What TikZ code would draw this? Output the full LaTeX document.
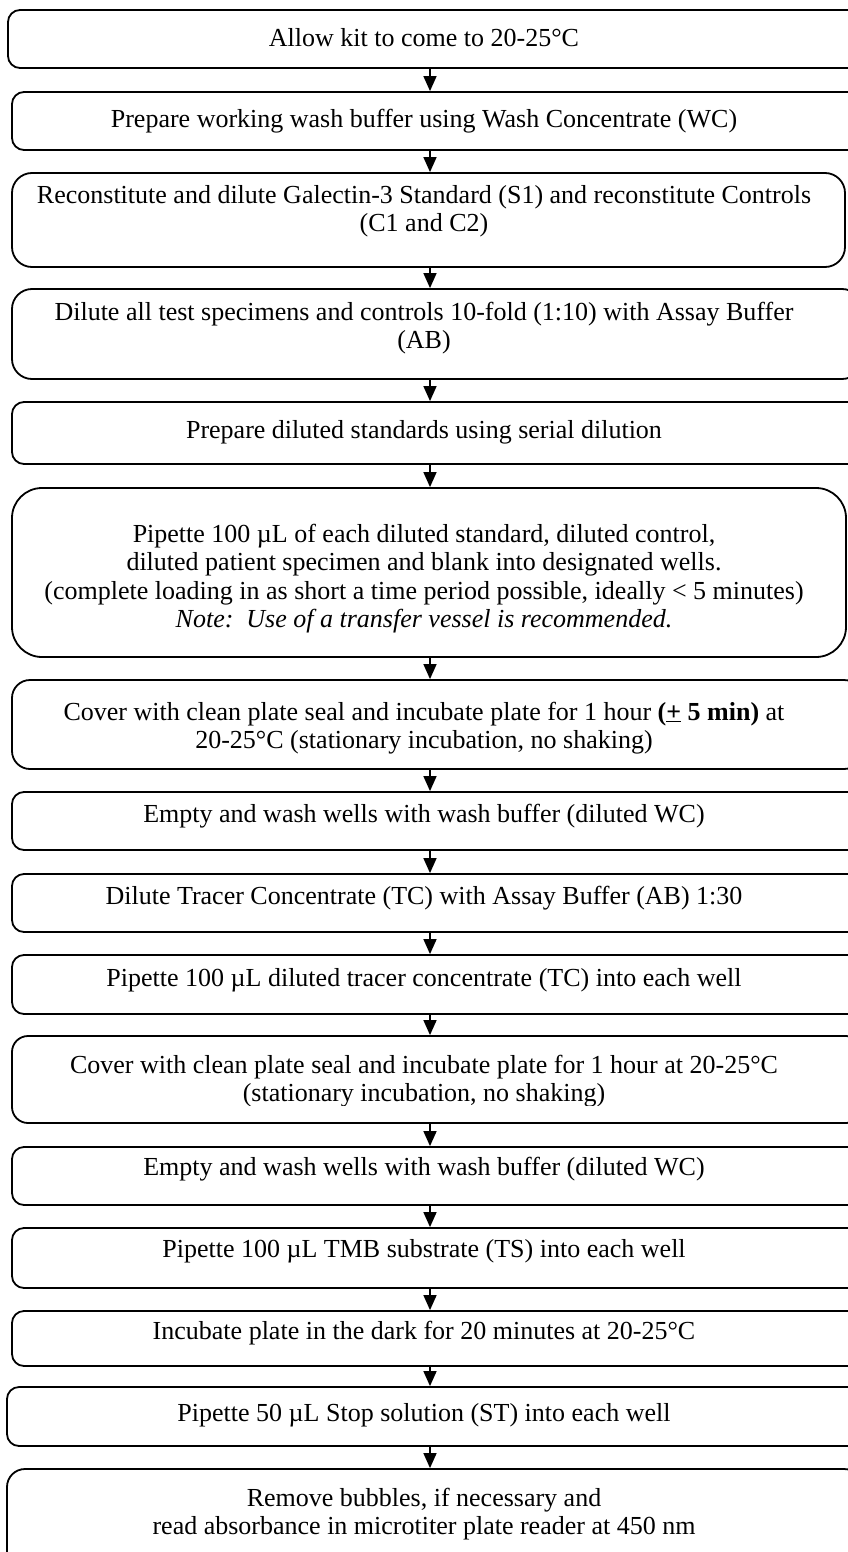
\documentclass[tikz,border=0pt]{standalone}
\usepackage{fontspec}
\setmainfont{Liberation Serif}
\usetikzlibrary{arrows.meta,fit}
\tikzset{
  stepbox/.style={draw=black, line width=1.8pt, rounded corners=#1, inner sep=0pt, fill=none},
  stepbox/.default=12pt,
  steptext/.style={align=center, font=\fontsize{26}{28.5}\selectfont, inner sep=0pt},
  flow/.style={line width=1.5pt, -{Triangle[width=13pt,length=15pt]}}
}
\newcommand{\mkbox}[6]{%
  \coordinate (#1nw) at (#2,#4);
  \coordinate (#1se) at (#3,#5);
  \node[stepbox=#6, fit=(#1nw)(#1se)] (#1) {};
}
\begin{document}
\begin{tikzpicture}[x=1pt,y=-1pt]
\useasboundingbox (0,0) rectangle (848,1552);
\clip (0,0) rectangle (848,1552);
% boxes: name, left, right, top, bottom, radius
\mkbox{b1}{8}{862}{10}{68}{12pt}
\mkbox{b2}{12}{862}{92}{150}{12pt}
\mkbox{b3}{12}{845}{173}{267}{20pt}
\mkbox{b4}{12}{862}{289}{379}{20pt}
\mkbox{b5}{12}{862}{402}{464}{12pt}
\mkbox{b6}{12}{846}{488}{657}{30pt}
\mkbox{b7}{12}{862}{680}{769}{18pt}
\mkbox{b8}{12}{862}{792}{850}{12pt}
\mkbox{b9}{12}{862}{874}{932}{12pt}
\mkbox{b10}{12}{862}{955}{1014}{12pt}
\mkbox{b11}{12}{862}{1036}{1123}{16pt}
\mkbox{b12}{12}{862}{1147}{1205}{12pt}
\mkbox{b13}{12}{862}{1228}{1288}{12pt}
\mkbox{b14}{12}{862}{1311}{1366}{12pt}
\mkbox{b15}{7}{862}{1387}{1446}{12pt}
\mkbox{b16}{7}{862}{1469}{1575}{18pt}

\node[steptext] (t1) at (424,38) {Allow kit to come to 20-25°C};
\node[steptext] (t2) at (424,121) {Prepare working wash buffer using Wash Concentrate (WC)};
\node[steptext] (t3) at (424,211) {Reconstitute and dilute Galectin-3 Standard (S1) and reconstitute Controls\\(C1 and C2)};
\node[steptext] (t4) at (424,328) {Dilute all test specimens and controls 10-fold (1:10) with Assay Buffer\\(AB)};
\node[steptext] (t5) at (424,432) {Prepare diluted standards using serial dilution};
\node[steptext] (t6) at (424,578.5) {Pipette 100 µL of each diluted standard, diluted control,\\diluted patient specimen and blank into designated wells.\\(complete loading in as short a time period possible, ideally < 5 minutes)\\\textit{Note:\ \ Use of a transfer vessel is recommended.}};
\node[steptext] (t7) at (424,728) {Cover with clean plate seal and incubate plate for 1 hour \textbf{(\underline{+} 5 min)} at\\20-25°C (stationary incubation, no shaking)};
\node[steptext] (t8) at (424,816) {Empty and wash wells with wash buffer (diluted WC)};
\node[steptext] (t9) at (424,898) {Dilute Tracer Concentrate (TC) with Assay Buffer (AB) 1:30};
\node[steptext] (t10) at (424,980) {Pipette 100 µL diluted tracer concentrate (TC) into each well};
\begin{scope}
\clip (0,1040) rectangle (848,1105);
\node[steptext] (t11) at (424,1081) {Cover with clean plate seal and incubate plate for 1 hour at 20-25°C\\(stationary incubation, no shaking)};
\end{scope}
\node[steptext] (t12) at (424,1169) {Empty and wash wells with wash buffer (diluted WC)};
\node[steptext] (t13) at (424,1251) {Pipette 100 µL TMB substrate (TS) into each well};
\node[steptext] (t14) at (424,1333) {Incubate plate in the dark for 20 minutes at 20-25°C};
\node[steptext] (t15) at (424,1415) {Pipette 50 µL Stop solution (ST) into each well};
\node[steptext] (t16) at (424,1514) {Remove bubbles, if necessary and\\read absorbance in microtiter plate reader at 450 nm};

\foreach \a/\b in {b1/b2,b2/b3,b3/b4,b4/b5,b5/b6,b6/b7,b7/b8,b8/b9,b9/b10,b10/b11,b11/b12,b12/b13,b13/b14,b14/b15,b15/b16}{
  \draw[flow] (\a.south -| 430,0) -- (\b.north -| 430,0);
}
\end{tikzpicture}
\end{document}
